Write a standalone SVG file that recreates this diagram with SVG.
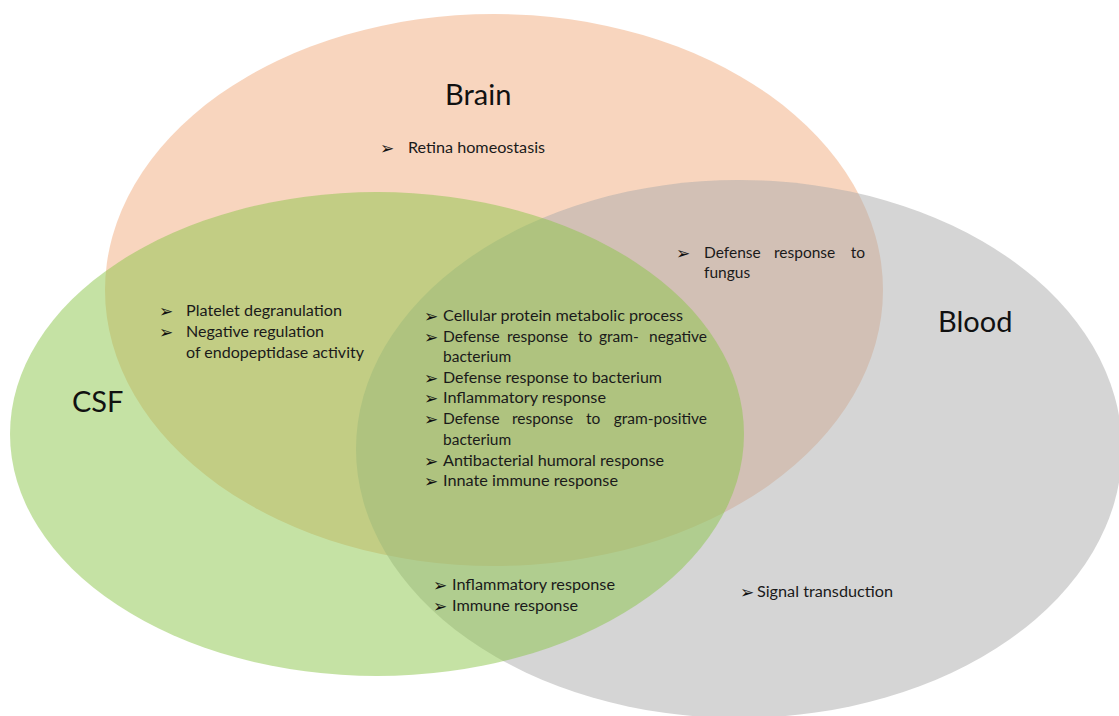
<svg xmlns="http://www.w3.org/2000/svg" width="1119" height="716" viewBox="0 0 1119 716">
  <style>
    .set { opacity: 0.5; }
    .title { font-family: Lato, "Open Sans", "Liberation Sans", sans-serif; font-size: 29px; fill: #111; }
    .item { font-family: Lato, "Open Sans", "Liberation Sans", sans-serif; font-size: 15.5px; fill: #1a1a1a; }
    .bullet { font-family: "DejaVu Sans", sans-serif; font-size: 17px; fill: #111; }
  </style>
  <rect width="1119" height="716" fill="#ffffff"/>

  <!-- Sets: brain, then blood, then CSF on top -->
  <g id="brain">
    <ellipse class="set" cx="494" cy="290" rx="389" ry="276" fill="#F1AB7D"/>
    <text class="title" x="445" y="105">Brain</text>
  </g>
  <g id="blood">
    <ellipse class="set" cx="739" cy="449" rx="383" ry="269" fill="#ABABAB"/>
    <text class="title" x="938" y="332">Blood</text>
  </g>
  <g id="csf">
    <ellipse class="set" cx="377" cy="434" rx="367" ry="242" fill="#8BC549"/>
    <text class="title" x="72" y="412">CSF</text>
  </g>

  <!-- Brain only -->
  <g id="brain-only">
    <text class="bullet" x="380" y="154">➢</text>
    <text class="item" x="408" y="153" textLength="137" lengthAdjust="spacingAndGlyphs">Retina homeostasis</text>
  </g>

  <!-- Brain and CSF -->
  <g id="brain-csf">
    <text class="bullet" x="159" y="317">➢</text>
    <text class="item" x="186" y="316" textLength="156" lengthAdjust="spacingAndGlyphs">Platelet degranulation</text>
    <text class="bullet" x="159" y="338">➢</text>
    <text class="item" x="186" y="337" textLength="138" lengthAdjust="spacingAndGlyphs">Negative regulation</text>
    <text class="item" x="186" y="358" textLength="178" lengthAdjust="spacingAndGlyphs">of endopeptidase activity</text>
  </g>

  <!-- Brain and Blood -->
  <g id="brain-blood">
    <text class="bullet" x="676" y="259">➢</text>
    <text class="item" x="704" y="258">Defense</text>
    <text class="item" x="774" y="258">response</text>
    <text class="item" x="865" y="258" text-anchor="end">to</text>
    <text class="item" x="704" y="278">fungus</text>
  </g>

  <!-- All three -->
  <g id="all-three">
    <text class="bullet" x="424" y="322">➢</text>
    <text class="item" x="443" y="321" textLength="240" lengthAdjust="spacingAndGlyphs">Cellular protein metabolic process</text>
    <text class="bullet" x="424" y="343">➢</text>
    <text class="item" x="443" y="342">Defense</text>
    <text class="item" x="507" y="342">response</text>
    <text class="item" x="578" y="342">to</text>
    <text class="item" x="599" y="342">gram-</text>
    <text class="item" x="707" y="342" text-anchor="end">negative</text>
    <text class="item" x="443" y="362">bacterium</text>
    <text class="bullet" x="424" y="384">➢</text>
    <text class="item" x="443" y="383" textLength="219" lengthAdjust="spacingAndGlyphs">Defense response to bacterium</text>
    <text class="bullet" x="424" y="404">➢</text>
    <text class="item" x="443" y="403" textLength="163" lengthAdjust="spacingAndGlyphs">Inflammatory response</text>
    <text class="bullet" x="424" y="425">➢</text>
    <text class="item" x="443" y="424">Defense</text>
    <text class="item" x="512" y="424">response</text>
    <text class="item" x="586" y="424">to</text>
    <text class="item" x="707" y="424" text-anchor="end">gram-positive</text>
    <text class="item" x="443" y="445">bacterium</text>
    <text class="bullet" x="424" y="467">➢</text>
    <text class="item" x="443" y="466" textLength="221" lengthAdjust="spacingAndGlyphs">Antibacterial humoral response</text>
    <text class="bullet" x="424" y="487">➢</text>
    <text class="item" x="443" y="486" textLength="175" lengthAdjust="spacingAndGlyphs">Innate immune response</text>
  </g>

  <!-- CSF and Blood -->
  <g id="csf-blood">
    <text class="bullet" x="433" y="591">➢</text>
    <text class="item" x="452" y="590" textLength="163" lengthAdjust="spacingAndGlyphs">Inflammatory response</text>
    <text class="bullet" x="433" y="612">➢</text>
    <text class="item" x="452" y="611" textLength="126" lengthAdjust="spacingAndGlyphs">Immune response</text>
  </g>

  <!-- Blood only -->
  <g id="blood-only">
    <text class="bullet" x="740" y="598">➢</text>
    <text class="item" x="757" y="597" textLength="136" lengthAdjust="spacingAndGlyphs">Signal transduction</text>
  </g>

  <!-- connectors: none in this diagram -->
  <g id="connectors"/>
</svg>
